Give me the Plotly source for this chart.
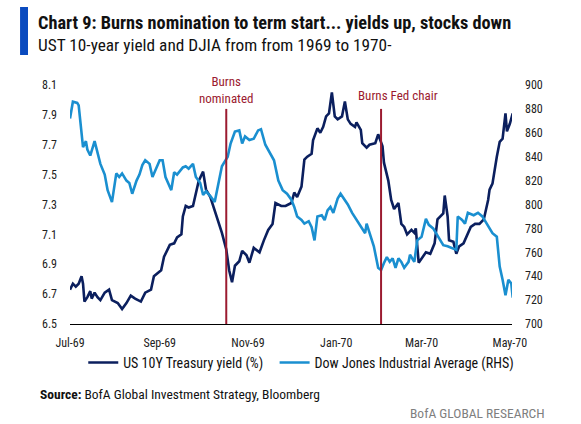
import plotly.graph_objs as go

# US 10Y Treasury yield (%)
yield_dates = [
    "1969-07-01", "1969-07-03", "1969-07-05", "1969-07-07", "1969-07-09", "1969-07-10",
    "1969-07-11", "1969-07-13", "1969-07-15", "1969-07-16", "1969-07-18", "1969-07-20",
    "1969-07-22", "1969-07-25", "1969-07-28", "1969-07-30", "1969-08-03", "1969-08-06",
    "1969-08-09", "1969-08-12", "1969-08-15", "1969-08-19", "1969-08-22", "1969-08-26",
    "1969-08-28", "1969-09-02", "1969-09-04", "1969-09-08", "1969-09-11", "1969-09-13",
    "1969-09-16", "1969-09-17", "1969-09-19", "1969-09-21", "1969-09-24", "1969-09-26",
    "1969-09-28", "1969-10-01", "1969-10-03", "1969-10-06", "1969-10-09", "1969-10-12",
    "1969-10-14", "1969-10-17", "1969-10-19", "1969-10-21", "1969-10-23", "1969-10-26",
    "1969-10-28", "1969-10-31", "1969-11-02", "1969-11-05", "1969-11-09", "1969-11-12",
    "1969-11-15", "1969-11-18", "1969-11-20", "1969-11-24", "1969-11-27", "1969-12-01",
    "1969-12-03", "1969-12-05", "1969-12-08", "1969-12-10", "1969-12-12", "1969-12-15",
    "1969-12-16", "1969-12-19", "1969-12-21", "1969-12-23", "1969-12-25", "1969-12-27",
    "1969-12-29", "1969-12-31", "1970-01-02", "1970-01-05", "1970-01-07", "1970-01-09",
    "1970-01-11", "1970-01-14", "1970-01-15", "1970-01-18", "1970-01-19", "1970-01-22",
    "1970-01-24", "1970-01-28", "1970-01-30", "1970-02-02", "1970-02-03", "1970-02-06",
    "1970-02-08", "1970-02-10", "1970-02-13", "1970-02-15", "1970-02-17", "1970-02-19",
    "1970-02-22", "1970-02-24", "1970-02-25", "1970-02-27", "1970-03-02", "1970-03-04",
    "1970-03-07", "1970-03-10", "1970-03-12", "1970-03-15", "1970-03-16", "1970-03-17",
    "1970-03-19", "1970-03-20", "1970-03-23", "1970-03-25", "1970-03-27", "1970-03-30",
    "1970-03-31", "1970-04-02", "1970-04-04", "1970-04-07", "1970-04-10", "1970-04-13",
    "1970-04-16", "1970-04-17", "1970-04-19", "1970-04-22", "1970-04-24", "1970-04-26",
    "1970-04-28", "1970-04-29", "1970-05-01", "1970-05-03",
]
yield_vals = [
    6.73, 6.77, 6.75, 6.77, 6.82, 6.77,
    6.65, 6.68, 6.72, 6.67, 6.71, 6.68,
    6.66, 6.71, 6.73, 6.66, 6.64, 6.60,
    6.64, 6.69, 6.67, 6.65, 6.71, 6.73,
    6.82, 6.86, 6.95, 7.03, 7.04, 7.08,
    7.10, 7.22, 7.29, 7.28, 7.29, 7.37,
    7.46, 7.52, 7.40, 7.35, 7.26, 7.17,
    7.11, 7.00, 6.86, 6.78, 6.89, 6.92,
    6.99, 6.96, 6.91, 7.01, 6.98, 7.06,
    7.13, 7.17, 7.31, 7.29, 7.29, 7.31,
    7.38, 7.35, 7.42, 7.60, 7.62, 7.64,
    7.73, 7.81, 7.78, 7.82, 7.89, 7.91,
    8.05, 7.89, 7.87, 7.89, 7.99, 7.87,
    7.84, 7.82, 7.85, 7.80, 7.71, 7.68,
    7.70, 7.71, 7.77, 7.69, 7.58, 7.46,
    7.33, 7.27, 7.31, 7.17, 7.15, 7.10,
    7.13, 7.11, 7.14, 6.91, 6.95, 6.98,
    6.97, 7.04, 7.20, 7.23, 7.24, 7.36,
    7.22, 7.06, 7.05, 6.97, 7.02, 7.04,
    7.06, 7.11, 7.15, 7.17, 7.17, 7.20,
    7.33, 7.40, 7.44, 7.62, 7.72, 7.74,
    7.91, 7.79, 7.84, 7.91,
]

# Dow Jones Industrial Average
djia_dates = [
    "1969-07-01", "1969-07-03", "1969-07-06", "1969-07-07", "1969-07-10", "1969-07-12",
    "1969-07-13", "1969-07-15", "1969-07-18", "1969-07-20", "1969-07-22", "1969-07-25",
    "1969-07-27", "1969-07-30", "1969-08-02", "1969-08-04", "1969-08-06", "1969-08-09",
    "1969-08-11", "1969-08-13", "1969-08-16", "1969-08-18", "1969-08-20", "1969-08-22",
    "1969-08-25", "1969-08-27", "1969-08-29", "1969-09-01", "1969-09-03", "1969-09-05",
    "1969-09-09", "1969-09-11", "1969-09-13", "1969-09-17", "1969-09-19", "1969-09-21",
    "1969-09-24", "1969-09-26", "1969-09-29", "1969-10-01", "1969-10-03", "1969-10-06",
    "1969-10-09", "1969-10-12", "1969-10-14", "1969-10-18", "1969-10-20", "1969-10-23",
    "1969-10-26", "1969-10-28", "1969-10-30", "1969-11-02", "1969-11-05", "1969-11-08",
    "1969-11-10", "1969-11-13", "1969-11-16", "1969-11-19", "1969-11-22", "1969-11-25",
    "1969-11-28", "1969-12-01", "1969-12-03", "1969-12-05", "1969-12-08", "1969-12-10",
    "1969-12-13", "1969-12-15", "1969-12-17", "1969-12-19", "1969-12-22", "1969-12-24",
    "1969-12-26", "1969-12-28", "1969-12-30", "1970-01-02", "1970-01-04", "1970-01-07",
    "1970-01-09", "1970-01-12", "1970-01-15", "1970-01-18", "1970-01-21", "1970-01-22",
    "1970-01-25", "1970-01-27", "1970-01-30", "1970-02-01", "1970-02-03", "1970-02-05",
    "1970-02-07", "1970-02-09", "1970-02-11", "1970-02-13", "1970-02-15", "1970-02-17",
    "1970-02-20", "1970-02-21", "1970-02-23", "1970-02-24", "1970-02-26", "1970-03-01",
    "1970-03-04", "1970-03-06", "1970-03-09", "1970-03-11", "1970-03-14", "1970-03-16",
    "1970-03-19", "1970-03-23", "1970-03-25", "1970-03-26", "1970-03-29", "1970-03-31",
    "1970-04-02", "1970-04-06", "1970-04-09", "1970-04-12", "1970-04-14", "1970-04-17",
    "1970-04-19", "1970-04-22", "1970-04-24", "1970-04-26", "1970-04-28", "1970-04-30",
    "1970-05-02", "1970-05-03",
]
djia_vals = [
    872, 886, 885, 883, 848, 853,
    846, 841, 853, 843, 834, 825,
    812, 802, 826, 823, 826, 820,
    818, 809, 820, 825, 833, 837,
    834, 823, 829, 837, 837, 823,
    812, 827, 825, 831, 832, 830,
    834, 823, 818, 808, 811, 807,
    802, 820, 832, 840, 851, 861,
    862, 851, 857, 854, 855, 862,
    863, 850, 844, 837, 820, 812,
    809, 804, 798, 790, 787, 784,
    786, 781, 770, 790, 791, 787,
    795, 798, 793, 805, 809, 804,
    800, 793, 787, 782, 776, 784,
    773, 765, 747, 745, 751, 756,
    752, 755, 747, 755, 752, 747,
    752, 758, 754, 752, 770, 773,
    788, 783, 780, 776, 770, 766,
    765, 763, 762, 790, 787, 784,
    793, 791, 793, 790, 786, 779,
    776, 773, 748, 737, 724, 737,
    734, 722,
]

events = [("1969-10-17", "Burns<br>nominated"), ("1970-02-01", "Burns Fed chair")]

font = "Liberation Sans Narrow, Roboto Condensed, Arial Narrow, Liberation Sans, sans-serif"
navy = "#0b1f5e"
sky = "#1a8fd0"
red = "#9b1b30"

trace1 = go.Scatter(x=yield_dates, y=yield_vals, mode="lines",
                    name="US 10Y Treasury yield (%)\u00a0\u00a0",
                    line=dict(color=navy, width=2.6))
trace2 = go.Scatter(x=djia_dates, y=djia_vals, mode="lines",
                    name="Dow Jones Industrial Average (RHS)",
                    line=dict(color=sky, width=2.6), yaxis="y2")

shapes = [dict(type="rect", xref="paper", yref="paper",
               x0=-0.113, x1=-0.095, y0=1.1255, y1=1.3264,
               fillcolor="#0a4bbf", line=dict(width=0))]
for d, _ in events:
    shapes.append(dict(type="line", xref="x", yref="paper", x0=d, x1=d, y0=0, y1=0.9,
                       line=dict(color=red, width=2)))

annotations = [
    dict(text="<b>Chart 9: Burns nomination to term start... yields up, stocks down</b>",
         xref="paper", yref="paper", x=-0.077, y=1.263, xanchor="left", yanchor="middle",
         showarrow=False, font=dict(size=18.3, color="#111111", family=font)),
    dict(text="UST 10-year yield and DJIA from from 1969 to 1970-",
         xref="paper", yref="paper", x=-0.077, y=1.167, xanchor="left", yanchor="middle",
         showarrow=False, font=dict(size=17.3, color="#111111", family=font)),
    dict(text=events[0][1], xref="x", yref="paper", x=events[0][0], y=0.979,
         xanchor="center", yanchor="middle", showarrow=False,
         font=dict(size=13, color=red, family=font)),
    dict(text=events[1][1], xref="x", yref="paper", x="1970-02-13", y=0.958,
         xanchor="center", yanchor="middle", showarrow=False,
         font=dict(size=13, color=red, family=font)),
    dict(text="<b>Source:</b> BofA Global Investment Strategy, Bloomberg",
         xref="paper", yref="paper", x=-0.072, y=-0.293, xanchor="left", yanchor="middle",
         showarrow=False, font=dict(size=13.5, color="#111111", family=font)),
    dict(text="BofA GLOBAL RESEARCH", xref="paper", yref="paper", x=1.08, y=-0.372,
         xanchor="right", yanchor="middle", showarrow=False,
         font=dict(size=13.5, color="#7f7f7f", family=font)),
]

layout = go.Layout(
    width=581, height=424,
    margin=dict(l=70, r=69, t=85, b=100),
    paper_bgcolor="white", plot_bgcolor="white",
    font=dict(family=font, size=12, color="#222222"),
    showlegend=True,
    legend=dict(orientation="h", x=0.03, y=-0.163, xanchor="left", yanchor="middle",
                font=dict(size=14, color="#111111"), bgcolor="rgba(0,0,0,0)"),
    xaxis=dict(type="date", range=["1969-07-01", "1970-05-02 12:00"],
               tick0="1969-07-01", dtick="M2", tickformat="%b-%y",
               showline=True, linecolor="black", linewidth=1, showgrid=False,
               ticks="", zeroline=False, ticklabelstandoff=8),
    yaxis=dict(range=[6.5, 8.1], dtick=0.2, tick0=6.5, tickformat=".1f",
               showgrid=False, zeroline=False, ticks="", ticklabelstandoff=12),
    yaxis2=dict(range=[700, 900], dtick=20, tick0=700, overlaying="y", side="right",
                showgrid=False, zeroline=False, ticks="", ticklabelstandoff=12),
    shapes=shapes,
    annotations=annotations,
)

fig = go.Figure(data=[trace1, trace2], layout=layout)
fig.write_html("out.html", config={"displayModeBar": False},
               post_script="document.body.style.margin='0';")
